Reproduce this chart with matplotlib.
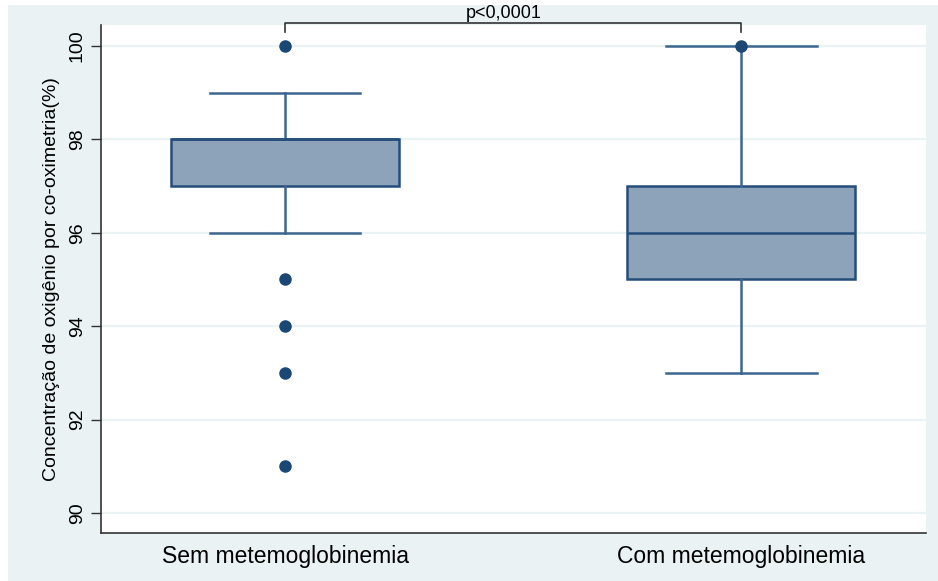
import matplotlib.pyplot as plt
from matplotlib.patches import Rectangle
import matplotlib.transforms as mtransforms

plt.rcParams['font.family'] = ['Liberation Sans', 'DejaVu Sans']

# box statistics
groups = ['Sem metemoglobinemia', 'Com metemoglobinemia']
q1 = [97, 95]
medians = [98, 96]
q3 = [98, 97]
whisker_low = [96, 93]
whisker_high = [99, 100]
outliers_sem = [100, 95, 94, 93, 91]
outliers_com = [100]
y_ticks = [90, 92, 94, 96, 98, 100]
p_label = 'p<0,0001'

box_fill = '#8DA3B9'
box_edge = '#244D7A'
whisk_col = '#3C6690'
dot_col = '#1B4775'
panel_col = '#EAF2F3'

fig = plt.figure(figsize=(9.38, 5.81), dpi=100)
fig.patch.set_facecolor('white')
fig.patches.append(Rectangle((8 / 938, 0), 1, 576 / 581, transform=fig.transFigure,
                             facecolor=panel_col, edgecolor='none', zorder=-10))

ax = fig.add_axes([101 / 938, 48 / 581, 825 / 938, 508 / 581])
ax.set_facecolor('white')

stats = []
fliers = [outliers_sem, outliers_com]
for i in range(len(groups)):
    stats.append(dict(q1=q1[i], med=medians[i], q3=q3[i],
                      whislo=whisker_low[i], whishi=whisker_high[i],
                      fliers=fliers[i], label=groups[i]))

ax.bxp(stats, positions=[1, 2], widths=0.5, capwidths=0.33, patch_artist=True,
       boxprops=dict(facecolor=box_fill, edgecolor=box_edge, linewidth=1.8),
       medianprops=dict(color=box_edge, linewidth=1.8),
       whiskerprops=dict(color=whisk_col, linewidth=1.8),
       capprops=dict(color=whisk_col, linewidth=1.8),
       flierprops=dict(marker='o', markerfacecolor=dot_col, markeredgecolor=dot_col,
                       markersize=8, linestyle='none'),
       zorder=3)

ax.set_xlim(0.596, 2.405)
ax.set_ylim(89.57, 100.45)
ax.set_yticks(y_ticks)
ax.set_yticklabels([str(t) for t in y_ticks], rotation=90, va='center', fontsize=14)
ax.tick_params(axis='y', length=7, width=1, color='#333333', pad=4)
ax.tick_params(axis='x', length=0, pad=9, labelsize=16.5)
ax.yaxis.grid(True, color=panel_col, linewidth=1.6, zorder=0)
ax.set_axisbelow(True)

for s in ['top', 'right']:
    ax.spines[s].set_visible(False)
for s in ['left', 'bottom']:
    ax.spines[s].set_color('#333333')
    ax.spines[s].set_linewidth(1.2)

ax.set_ylabel('Concentração de oxigênio por co-oximetria(%)', fontsize=14, labelpad=6)

# significance bracket
trans = mtransforms.blended_transform_factory(ax.transData, ax.transAxes)
ax.plot([1, 1, 2, 2], [0.986, 1.003, 1.003, 0.986], transform=trans,
        color='#333333', linewidth=1.2, clip_on=False)
ax.text(1.48, 1.005, p_label, transform=trans, ha='center', va='bottom', fontsize=13)

fig.savefig('out.png', dpi=100)
